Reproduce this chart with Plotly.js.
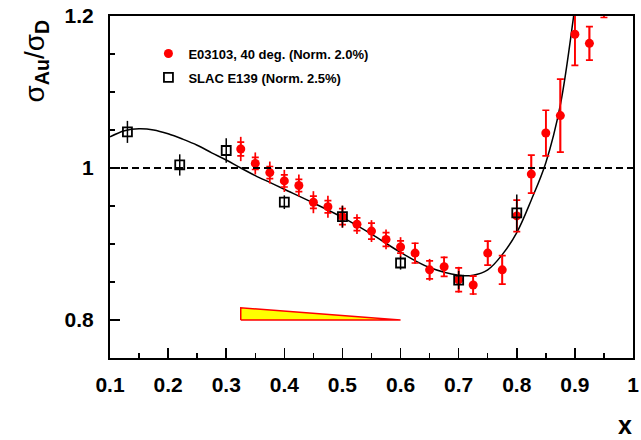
<!DOCTYPE html>
<html><head><meta charset="utf-8">
<script src="https://cdn.plot.ly/plotly-3.0.1.min.js"></script>
<style>html,body{margin:0;padding:0;background:#fff}#chart{width:641px;height:440px}</style>
</head><body><div id="chart"></div>
<script>
// E03103, 40 deg. data
const e03X    = [0.325,0.35,0.375,0.4,0.425,0.45,0.475,0.5,0.525,0.55,0.575,0.6,0.625,0.65,0.675,0.7,0.725,0.75,0.775,0.8,0.825,0.85,0.875,0.9,0.925,0.95];
const e03Y    = [1.025,1.006,0.994,0.983,0.977,0.955,0.949,0.936,0.926,0.917,0.906,0.896,0.888,0.866,0.870,0.853,0.846,0.888,0.866,0.937,0.992,1.046,1.069,1.176,1.164,1.240];
const e03Stat = [0.009,0.008,0.008,0.008,0.008,0.008,0.008,0.0105,0.0085,0.0105,0.009,0.008,0.013,0.0118,0.0125,0.0157,0.0118,0.0157,0.0188,0.0206,0.025,0.030,0.048,0.041,0.022,0.042];
const e03Tot  = [0.016,0.0145,0.0145,0.0145,0.0145,0.0145,0.0145,0.0145,0.013,0.0144,0.013,0.013,0.014,0.0144,0.0135,0.017,0.013,0.0165,0.0188,0.0206,0.025,0.030,0.048,0.041,0.022,0.042];
// SLAC E139
const slacX   = [0.13,0.22,0.3,0.4,0.5,0.6,0.7,0.8];
const slacY   = [1.0475,1.004,1.023,0.955,0.936,0.875,0.8525,0.941];
const slacErr = [0.0145,0.014,0.016,0.009,0.0144,0.0087,0.012,0.024];
// fit curve
const fitX = [0.1,0.125,0.15,0.175,0.2,0.225,0.25,0.275,0.3,0.325,0.35,0.375,0.4,0.45,0.5,0.55,0.6,0.65,0.7,0.725,0.75,0.775,0.8,0.825,0.85,0.875,0.9,0.91];
const fitY = [1.041,1.049,1.0515,1.050,1.045,1.038,1.030,1.020,1.0105,1.000,0.990,0.981,0.972,0.954,0.935,0.913,0.889,0.869,0.859,0.859,0.866,0.886,0.915,0.958,1.007,1.083,1.212,1.27];
// systematic band (triangle)
const sysX = [0.325,0.325,0.6,0.325];
const sysY = [0.8,0.816,0.8,0.8];
// ticks
const xTickVals = [0.1,0.2,0.3,0.4,0.5,0.6,0.7,0.8,0.9,1.0];
const xTickText = ['0.1','0.2','0.3','0.4','0.5','0.6','0.7','0.8','0.9','1'];
const yTickVals = [0.8,1.0,1.2];
const yTickText = ['0.8','1','1.2'];
const legendNames = ['E03103, 40 deg. (Norm. 2.0%)','SLAC E139 (Norm. 2.5%)'];

const FONT = 'Liberation Sans, Arial, Helvetica, sans-serif';
const RED = '#ff0000';

const traces = [
  {x: sysX, y: sysY, type:'scatter', mode:'lines', fill:'toself', fillcolor:'#ffff00',
   line:{color:RED, width:1.5}, showlegend:false, hoverinfo:'skip'},
  {x: fitX, y: fitY, type:'scatter', mode:'lines', line:{color:'#000', width:1.5, shape:'spline'},
   showlegend:false, hoverinfo:'skip'},
  {x: e03X, y: e03Y, type:'scatter', mode:'markers', marker:{size:1, color:'rgba(0,0,0,0)'},
   error_y:{type:'data', array:e03Tot, visible:true, color:RED, thickness:1.7, width:0},
   showlegend:false, hoverinfo:'skip'},
  {x: e03X, y: e03Y, type:'scatter', mode:'markers', name:legendNames[0], legendgroup:'a',
   marker:{symbol:'circle', size:9, color:RED},
   error_y:{type:'data', array:e03Stat, visible:true, color:RED, thickness:1.7, width:3.5}},
  {x: slacX, y: slacY, type:'scatter', mode:'markers', name:legendNames[1], legendgroup:'b',
   marker:{symbol:'square-open', size:9, color:'#000', line:{width:1.8, color:'#000'}},
   error_y:{type:'data', array:slacErr, visible:true, color:'#000', thickness:1.5, width:0}}
];

const layout = {
  width:641, height:440,
  margin:{l:110, r:8, t:16, b:82},
  paper_bgcolor:'#fff', plot_bgcolor:'#fff',
  font:{family:FONT, color:'#000'},
  showlegend:true,
  legend:{x:0.0735, y:0.934, xanchor:'left', yanchor:'top', bgcolor:'rgba(0,0,0,0)',
          font:{family:FONT, size:13, weight:'bold', color:'#000'}, tracegroupgap:4, traceorder:'grouped'},
  xaxis:{range:[0.1,1.0], tickvals:xTickVals, ticktext:xTickText, ticks:'inside', ticklen:10, tickwidth:1.5,
         tickcolor:'#000', showline:true, linecolor:'#000', linewidth:2, mirror:true, showgrid:false, zeroline:false,
         tickfont:{family:FONT, size:21, weight:'bold', color:'#000'}, ticklabelstandoff:7,
         minor:{dtick:0.05, tick0:0.1, ticks:'inside', ticklen:5, tickwidth:1.5, tickcolor:'#000', showgrid:false}},
  yaxis:{range:[0.75,1.2], tickvals:yTickVals, ticktext:yTickText, ticks:'inside', ticklen:10, tickwidth:1.5,
         tickcolor:'#000', showline:true, linecolor:'#000', linewidth:2, mirror:true, showgrid:false, zeroline:false,
         tickfont:{family:FONT, size:21, weight:'bold', color:'#000'}, ticklabelstandoff:10,
         minor:{dtick:0.05, tick0:0.75, ticks:'inside', ticklen:5, tickwidth:1.5, tickcolor:'#000', showgrid:false}},
  shapes:[{type:'line', xref:'paper', x0:0, x1:1, yref:'y', y0:1, y1:1, line:{color:'#000', width:2, dash:'7px,4px'}}],
  annotations:[
    {xref:'paper', yref:'paper', x:-0.1415, y:0.87, xanchor:'center', yanchor:'middle', showarrow:false, textangle:-90,
     text:'σ<sub><b>Au</b></sub>/σ<sub><b>D</b></sub>', font:{family:FONT, size:28, color:'#000'}},
    {xref:'paper', yref:'paper', x:0.9847, y:-0.1959, xanchor:'center', yanchor:'middle', showarrow:false,
     text:'<b>x</b>', font:{family:FONT, size:25, color:'#000'}}
  ]
};

Plotly.newPlot('chart', traces, layout, {staticPlot:true, displayModeBar:false});
</script>
</body></html>
